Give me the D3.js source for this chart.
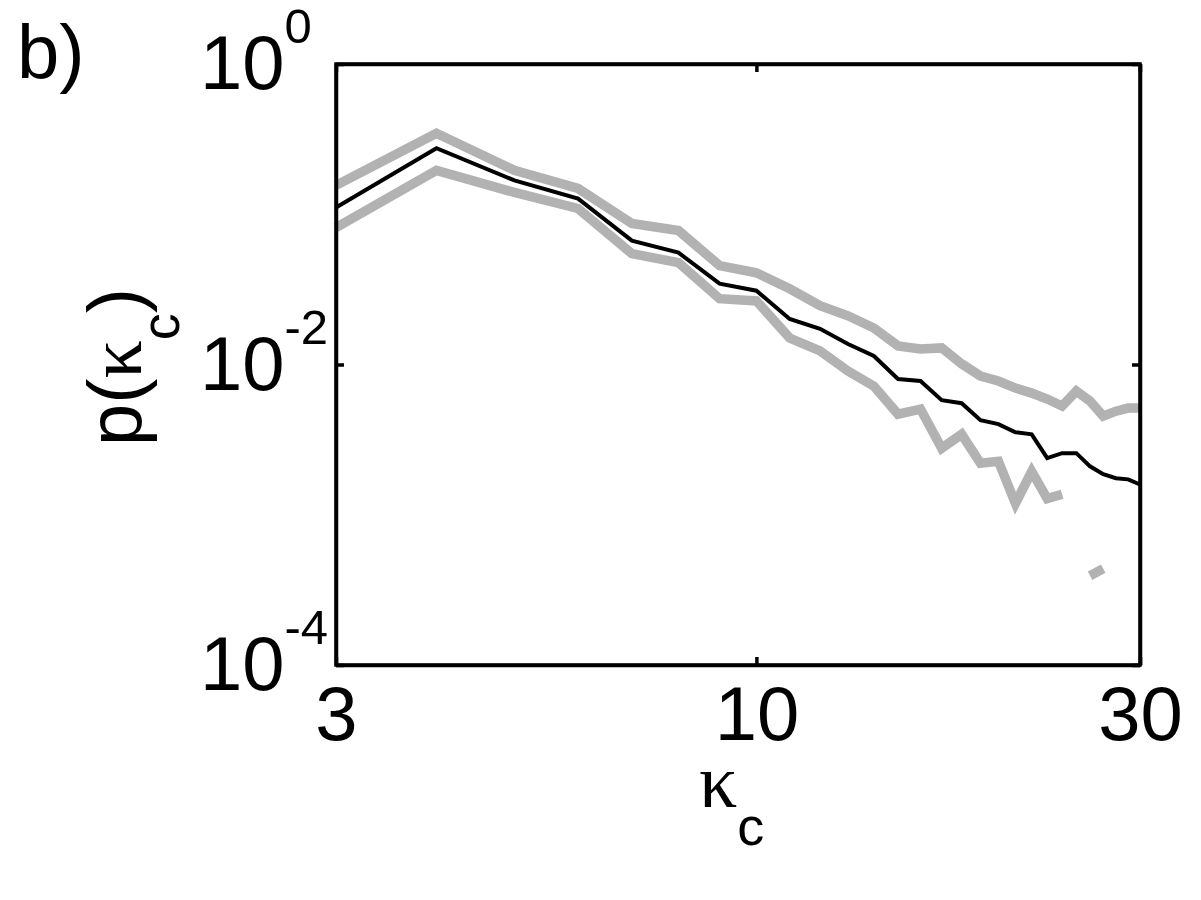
<!DOCTYPE html>
<html><head><meta charset="utf-8">
<script src="https://cdn.jsdelivr.net/npm/d3@7"></script>
<style>body{margin:0;background:#fff}</style>
</head><body>
<svg id="chart" width="1201" height="900"></svg>
<script>
const kValues = [3,4,5,6,7,8,9,10,11,12,13,14,15,16,17,18,19,20,21,22,23,24,25,26,27,28,29,30];
const pMean = [0.111,0.275,0.168,0.127,0.0668,0.0555,0.0345,0.0310,0.0201,0.0173,0.0137,0.0114,0.0080,0.00776,0.00579,0.00553,0.00426,0.00401,0.00354,0.00343,0.00238,0.00257,0.00257,0.00210,0.00186,0.00175,0.00172,0.00159];
const pUpper = [0.1556,0.346,0.196,0.1486,0.0867,0.0779,0.0455,0.0408,0.0319,0.0246,0.0211,0.0175,0.0133,0.0127,0.0129,0.0101,0.00838,0.00776,0.00697,0.00645,0.00589,0.00529,0.00665,0.00571,0.00453,0.00489,0.00513,0.00513];
const pLower = [0.0816,0.196,0.1397,0.1092,0.0547,0.0476,0.0274,0.0265,0.0150,0.0123,0.00905,0.00718,0.00467,0.00505,0.00277,0.00343,0.00220,0.00227,0.00119,0.00194,0.00128,0.00137,null,0.000393,0.000438,null,null,null];
const xTicks = [3,10,30];
const yTicks = [1,1e-2,1e-4];
const yTickExp = ["0","-2","-4"];

const svg = d3.select("#chart");
const L = 336, R = 1140, T = 64, B = 665;
const x = d3.scaleLog().domain([3,30]).range([L,R]);
const y = d3.scaleLog().domain([1e-4,1]).range([B,T]);

const line = d3.line()
  .defined(d => d[1] != null)
  .x(d => x(d[0])).y(d => y(d[1]));

function series(vals){ return kValues.map((k,i)=>[k, vals[i]]); }

const gLines = svg.append("g");
[pUpper, pLower].forEach(v => {
  gLines.append("path").datum(series(v)).attr("d", line)
    .attr("fill","none").attr("stroke","#b2b2b2").attr("stroke-width",9.5)
    .attr("stroke-linejoin","miter").attr("stroke-linecap","butt");
});
gLines.append("path").datum(series(pMean)).attr("d", line)
  .attr("fill","none").attr("stroke","#000").attr("stroke-width",4)
  .attr("stroke-linejoin","miter");

const fontSans = "Liberation Sans, Arial, sans-serif";
const fontSerif = "Liberation Serif, Times New Roman, serif";

// axes
const axL = svg.append("g").attr("transform",`translate(${L},0)`)
  .call(d3.axisLeft(y).tickValues(yTicks).tickSize(-8).tickSizeOuter(0).tickFormat(""));
const axR = svg.append("g").attr("transform",`translate(${R},0)`)
  .call(d3.axisRight(y).tickValues(yTicks).tickSize(-8).tickSizeOuter(0).tickFormat(""));
const axB = svg.append("g").attr("transform",`translate(0,${B})`)
  .call(d3.axisBottom(x).tickValues(xTicks).tickSize(-8).tickSizeOuter(0).tickPadding(21).tickFormat(d3.format("d")));
const axT = svg.append("g").attr("transform",`translate(0,${T})`)
  .call(d3.axisTop(x).tickValues(xTicks).tickSize(-8).tickSizeOuter(0).tickFormat(""));
[axL,axR,axB,axT].forEach(a => {
  a.select(".domain").attr("stroke","#000").attr("stroke-width",3.5);
  a.selectAll(".tick line").attr("stroke","#000").attr("stroke-width",3.5);
});
svg.append("rect").attr("x",L).attr("y",T).attr("width",R-L).attr("height",B-T)
  .attr("fill","none").attr("stroke","#000").attr("stroke-width",3.5);

axB.selectAll(".tick text").attr("font-family",fontSans).attr("font-size",76).attr("fill","#000");

// y tick labels with superscripts
const yl = svg.append("g");
yTicks.forEach((v,i) => {
  const t = yl.append("text").attr("x",200).attr("y",y(v)+25)
    .attr("font-family",fontSans).attr("font-size",76).attr("fill","#000");
  t.append("tspan").text("10");
  t.append("tspan").attr("dy",-46).attr("font-size",49).text(yTickExp[i]);
});

// panel label
svg.append("text").attr("x",17).attr("y",78).attr("font-family",fontSans)
  .attr("font-size",76).attr("fill","#000").text("b)");

// x label
const xl = svg.append("text").attr("x",699).attr("y",807).attr("fill","#000").attr("font-size",76);
xl.append("tspan").attr("font-family",fontSerif).text("κ");
xl.append("tspan").attr("font-family",fontSans).attr("font-size",54).attr("dy",38).text("c");

// y label
const ylab = svg.append("text").attr("transform","translate(141,367) rotate(-90)")
  .attr("text-anchor","middle").attr("fill","#000").attr("font-size",76).attr("font-family",fontSans);
ylab.append("tspan").text("p(");
ylab.append("tspan").attr("font-family",fontSerif).text("κ");
ylab.append("tspan").attr("font-size",54).attr("dy",38).text("c");
ylab.append("tspan").attr("dy",-38).text(")");
</script>
</body></html>
